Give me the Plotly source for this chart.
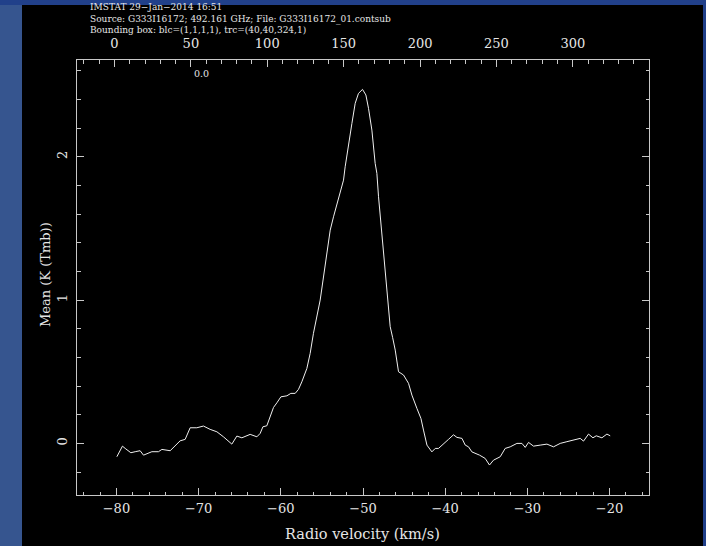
import plotly.graph_objects as go

# ---- data ----
velocity = [
    -79.95, -79.27, -78.94, -78.25, -77.72, -77.12, -76.71, -76.30, -75.69, -74.89,
    -74.47, -73.46, -72.65, -72.25, -71.64, -71.03, -70.22, -69.41, -68.60, -67.78,
    -66.98, -65.96, -65.35, -64.74, -63.73, -62.91, -62.51, -62.18, -61.70, -61.29,
    -60.89, -60.48, -59.99, -59.26, -58.78, -58.25, -57.85, -57.44, -56.83, -56.43,
    -56.03, -55.21, -54.60, -53.99, -53.59, -52.98, -52.37, -52.17, -51.77, -51.35,
    -50.95, -50.55, -50.06, -49.65, -49.33, -48.92, -48.52, -48.31, -48.11, -47.82,
    -47.51, -47.09, -46.69, -46.40, -46.08, -45.68, -45.07, -44.46, -44.05, -43.44,
    -42.95, -42.64, -42.22, -41.62, -41.21, -40.81, -40.20, -39.60, -38.99, -38.57,
    -37.96, -37.56, -37.16, -36.75, -35.82, -35.13, -34.61, -34.12, -33.30, -32.70,
    -32.09, -31.27, -30.66, -30.26, -29.86, -29.25, -28.44, -27.62, -26.82, -26.00,
    -25.19, -24.38, -23.57, -23.17, -22.56, -22.02, -21.62, -20.93, -20.32, -19.92,
]
mean_tmb = [
    -0.093, -0.019, -0.035, -0.065, -0.058, -0.051, -0.082, -0.070, -0.058, -0.058,
    -0.042, -0.051, -0.007, 0.018, 0.028, 0.109, 0.109, 0.121, 0.098, 0.081,
    0.046, -0.005, 0.051, 0.039, 0.063, 0.046, 0.070, 0.116, 0.123, 0.186,
    0.251, 0.283, 0.325, 0.332, 0.349, 0.349, 0.377, 0.430, 0.523, 0.628,
    0.768, 1.000, 1.232, 1.488, 1.581, 1.710, 1.837, 1.930, 2.094, 2.233,
    2.373, 2.442, 2.470, 2.431, 2.338, 2.186, 1.954, 1.884, 1.721, 1.535,
    1.302, 1.047, 0.814, 0.740, 0.651, 0.500, 0.477, 0.419, 0.337, 0.244,
    0.174, 0.093, -0.012, -0.059, -0.035, -0.035, 0.000, 0.028, 0.060, 0.042,
    0.035, -0.012, -0.024, -0.059, -0.082, -0.105, -0.151, -0.117, -0.093, -0.035,
    -0.024, 0.000, 0.000, -0.028, 0.007, -0.019, -0.012, -0.005, -0.024, 0.000,
    0.012, 0.023, 0.035, 0.016, 0.065, 0.039, 0.053, 0.039, 0.065, 0.053,
]

velocity_ticks = [-80, -70, -60, -50, -40, -30, -20]
velocity_ticktext = ["\u221280", "\u221270", "\u221260", "\u221250", "\u221240", "\u221230", "\u221220"]
channel_ticks = [0, 50, 100, 150, 200, 250, 300]
mean_ticks = [0, 1, 2]

header_lines = [
    "IMSTAT 29\u2212Jan\u22122014 16:51",
    "Source: G333I16172; 492.161 GHz; File: G333I16172_01.contsub",
    "Bounding box: blc=(1,1,1,1), trc=(40,40,324,1)",
]
corner_label = "0.0"
x_title = "Radio velocity (km/s)"
y_title = "Mean (K (Tmb))"

# channel <-> velocity mapping of the top axis
chan0_velocity = -80.24
chan_width = 0.1859

vel_range = [-84.8, -15.2]
mean_range = [-0.36, 2.675]
chan_range = [(v - chan0_velocity) / chan_width for v in vel_range]

FONT = "DejaVu Serif"
FRAME = "#c8c8c8"
TEXT = "#e6e6e6"

W, H = 706, 546
ML, MR, MT, MB = 77, 57, 60, 51
PW, PH = W - ML - MR, H - MT - MB


def px_x(p):
    return (p - ML) / PW


def px_y(p):
    return (H - MB - p) / PH


fig = go.Figure()
fig.add_trace(go.Scatter(
    x=velocity, y=mean_tmb, mode="lines",
    line=dict(color="#f0f0f0", width=1),
    hoverinfo="skip", showlegend=False,
))
fig.add_trace(go.Scatter(x=[None], y=[None], xaxis="x2", yaxis="y2",
                         showlegend=False, hoverinfo="skip"))

common = dict(
    showgrid=False, zeroline=False, showline=True, linecolor=FRAME, linewidth=1,
    ticks="inside", tickcolor=FRAME, tickwidth=1, ticklen=7,
    tickfont=dict(family=FONT, size=13, color=TEXT),
)

fig.update_layout(
    width=W, height=H,
    margin=dict(l=ML, r=MR, t=MT, b=MB, autoexpand=False),
    paper_bgcolor="#21408a",
    plot_bgcolor="black",
    xaxis=dict(
        range=vel_range, tickvals=velocity_ticks, ticktext=velocity_ticktext,
        mirror=False, ticklabelstandoff=1,
        minor=dict(dtick=2, ticks="inside", ticklen=3.5, tickcolor=FRAME, showgrid=False),
        **common,
    ),
    xaxis2=dict(
        range=chan_range, tickvals=channel_ticks, overlaying="x", side="top",
        anchor="y", ticklabelstandoff=6,
        minor=dict(dtick=10, ticks="inside", ticklen=3.5, tickcolor=FRAME, showgrid=False),
        **common,
    ),
    yaxis=dict(
        range=mean_range, tickvals=mean_ticks, tickangle=-90,
        ticklabelstandoff=4,
        minor=dict(dtick=0.2, ticks="inside", ticklen=3.5, tickcolor=FRAME, showgrid=False),
        **common,
    ),
    yaxis2=dict(
        range=mean_range, tickvals=mean_ticks, overlaying="y", side="right",
        anchor="x", showticklabels=False,
        minor=dict(dtick=0.2, ticks="inside", ticklen=3.5, tickcolor=FRAME, showgrid=False),
        **common,
    ),
    shapes=[
        dict(type="rect", xref="paper", yref="paper", layer="below",
             x0=px_x(0), x1=px_x(22), y0=px_y(H + 5), y1=px_y(5),
             fillcolor="#36558f", line=dict(width=0)),
        dict(type="rect", xref="paper", yref="paper", layer="below",
             x0=px_x(22), x1=px_x(703), y0=px_y(H + 5), y1=px_y(5),
             fillcolor="black", line=dict(width=0)),
    ],
)

annotations = [
    dict(
        text="<br>".join(header_lines), xref="paper", yref="paper",
        x=px_x(88), y=px_y(18), xanchor="left", yanchor="middle", align="left",
        showarrow=False, font=dict(family=FONT, size=9, color=TEXT),
    ),
    dict(
        text=corner_label, xref="paper", yref="paper", x=px_x(201), y=px_y(73),
        xanchor="center", yanchor="middle", showarrow=False,
        font=dict(family=FONT, size=9.5, color=TEXT),
    ),
    dict(
        text=x_title, xref="paper", yref="paper", x=px_x(362), y=px_y(534),
        xanchor="center", yanchor="middle", showarrow=False,
        font=dict(family=FONT, size=14.5, color=TEXT),
    ),
    dict(
        text=y_title, xref="paper", yref="paper", x=px_x(45), y=px_y(275),
        xanchor="center", yanchor="middle", showarrow=False, textangle=-90,
        font=dict(family=FONT, size=13, color=TEXT),
    ),
]
fig.update_layout(annotations=annotations)

fig.write_html("out.html")
